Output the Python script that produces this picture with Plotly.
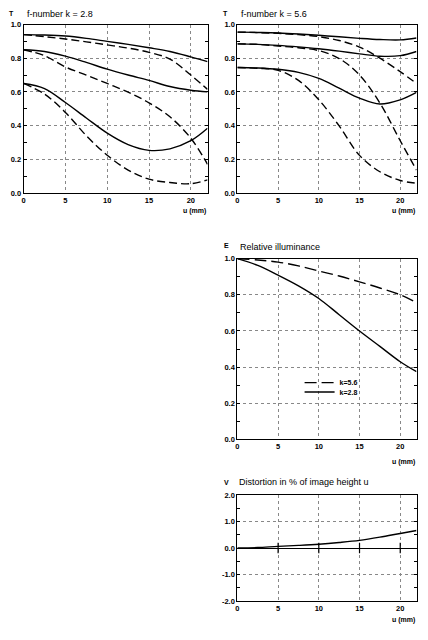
import plotly.graph_objects as go

# ---------------- data ----------------
u = [0, 2.5, 5, 7.5, 10, 12.5, 15, 17.5, 20, 22]

# f-number k = 2.8  (T)
t28_solid_1 = [0.94, 0.938, 0.932, 0.918, 0.90, 0.882, 0.862, 0.84, 0.808, 0.78]
t28_dash_1 = [0.94, 0.928, 0.914, 0.897, 0.879, 0.86, 0.835, 0.795, 0.70, 0.615]
t28_solid_2 = [0.85, 0.84, 0.812, 0.775, 0.735, 0.70, 0.668, 0.632, 0.61, 0.60]
t28_dash_2 = [0.85, 0.815, 0.748, 0.70, 0.650, 0.598, 0.535, 0.452, 0.325, 0.17]
t28_solid_3 = [0.65, 0.62, 0.537, 0.445, 0.355, 0.287, 0.253, 0.262, 0.31, 0.384]
t28_dash_3 = [0.65, 0.587, 0.478, 0.34, 0.224, 0.136, 0.082, 0.062, 0.055, 0.078]

# f-number k = 5.6  (T)
t56_solid_1 = [0.955, 0.953, 0.95, 0.944, 0.936, 0.927, 0.918, 0.911, 0.909, 0.92]
t56_dash_1 = [0.955, 0.952, 0.948, 0.94, 0.928, 0.905, 0.866, 0.80, 0.72, 0.65]
t56_solid_2 = [0.885, 0.882, 0.876, 0.867, 0.856, 0.842, 0.826, 0.812, 0.815, 0.84]
t56_dash_2 = [0.885, 0.882, 0.872, 0.862, 0.845, 0.798, 0.70, 0.534, 0.31, 0.136]
t56_solid_3 = [0.745, 0.742, 0.734, 0.716, 0.68, 0.622, 0.563, 0.528, 0.553, 0.597]
t56_dash_3 = [0.745, 0.74, 0.728, 0.668, 0.553, 0.398, 0.223, 0.126, 0.074, 0.058]

# Relative illuminance (E)
e_k56 = [1.0, 0.993, 0.981, 0.96, 0.932, 0.904, 0.872, 0.838, 0.80, 0.757]
e_k28 = [1.0, 0.963, 0.909, 0.85, 0.78, 0.69, 0.60, 0.515, 0.43, 0.375]

# Distortion (V)
v_dist = [0.0, 0.02, 0.065, 0.1, 0.145, 0.21, 0.29, 0.41, 0.55, 0.66]

x_ticks = [0, 5, 10, 15, 20]
t_ticks = [0.0, 0.2, 0.4, 0.6, 0.8, 1.0]
v_ticks = [-2, -1, 0, 1, 2]
v_ticklabels = ["-2.0", "-1.0", "0.0", "1.0", "2.0"]
legend_names = ["k=5.6", "k=2.8"]

# ---------------- figure ----------------
PAGE_W, PAGE_H = 428, 640
OFF = 8  # default body margin of the page
W, H = PAGE_W - 2 * OFF, PAGE_H - 2 * OFF
fig = go.Figure()

LW = 1.4
DASH_T = "8px,4px"
DASH_E = "12px,5px"


def add_line(y, xa, ya, dash, name=None, legend=None):
    fig.add_trace(go.Scatter(
        x=u, y=y, mode="lines", xaxis=xa, yaxis=ya,
        line=dict(color="black", width=LW, dash=dash, shape="spline", smoothing=1.0),
        name=name, showlegend=legend is not None, legend=legend or "legend",
        hoverinfo="skip"))


for s, d in [(t28_solid_1, t28_dash_1), (t28_solid_2, t28_dash_2), (t28_solid_3, t28_dash_3)]:
    add_line(s, "x", "y", "solid")
    add_line(d, "x", "y", DASH_T)
for s, d in [(t56_solid_1, t56_dash_1), (t56_solid_2, t56_dash_2), (t56_solid_3, t56_dash_3)]:
    add_line(s, "x2", "y2", "solid")
    add_line(d, "x2", "y2", DASH_T)

add_line(e_k56, "x3", "y3", DASH_E, legend_names[0], "legend")
add_line(e_k28, "x3", "y3", "solid", legend_names[1], "legend2")
add_line(v_dist, "x4", "y4", "solid")

# vertical marks on the zero line in the distortion chart
for t in x_ticks[1:]:
    fig.add_shape(type="line", xref="x4", yref="y4", x0=t, x1=t, y0=-0.2, y1=0.2,
                  line=dict(color="black", width=1.2))


def px_x(p):
    return (p - OFF) / W


def px_y(p):
    return 1 - (p - OFF) / H


xl = [px_x(21.7), px_x(206.5)]
xr = [px_x(236.5), px_x(416.5)]
y_top = [px_y(191.6), px_y(20.7)]
y_mid = [px_y(441.7), px_y(258.3)]
y_bot = [px_y(605.8), px_y(498.0)]

tickfont = dict(family="Liberation Sans", size=7.5, color="black", weight="bold")
common_x = dict(range=[0, 22], tickvals=x_ticks, ticks="inside", ticklen=0,
                showline=True, linecolor="black", linewidth=1, mirror=True,
                showgrid=True, gridcolor="#888888", griddash="dot", gridwidth=1,
                zeroline=False, tickfont=tickfont, fixedrange=True)
common_y = dict(ticks="inside", ticklen=0, showline=True, linecolor="black",
                linewidth=1, mirror="ticks", showgrid=True, gridcolor="#888888",
                griddash="dot", gridwidth=1, zeroline=False, tickfont=tickfont,
                fixedrange=True)
minor_t = dict(dtick=0.1, ticks="inside", ticklen=3, tickcolor="black", showgrid=False)
legfont = dict(family="Liberation Sans", size=7, weight="bold", color="black")

fig.update_layout(
    width=W, height=H, margin=dict(l=0, r=0, t=0, b=0),
    paper_bgcolor="white", plot_bgcolor="white",
    font=dict(family="Liberation Sans", color="black"),
    xaxis=dict(domain=xl, anchor="y", **common_x),
    yaxis=dict(domain=y_top, anchor="x", range=[0, 1], tickvals=t_ticks, tickformat=".1f",
               minor=minor_t, **common_y),
    xaxis2=dict(domain=xr, anchor="y2", **common_x),
    yaxis2=dict(domain=y_top, anchor="x2", range=[0, 1], tickvals=t_ticks, tickformat=".1f",
                minor=minor_t, **common_y),
    xaxis3=dict(domain=xr, anchor="y3", **common_x),
    yaxis3=dict(domain=y_mid, anchor="x3", range=[0, 1], tickvals=t_ticks, tickformat=".1f",
                minor=minor_t, **common_y),
    xaxis4=dict(domain=xr, anchor="y4", **common_x),
    yaxis4=dict(domain=y_bot, anchor="x4", range=[-2, 2], tickvals=v_ticks, ticktext=v_ticklabels,
                minor=dict(dtick=0.5, ticks="inside", ticklen=3, tickcolor="black", showgrid=False),
                **{**common_y, "zeroline": True}, zerolinecolor="black", zerolinewidth=1),
    legend=dict(x=px_x(299), y=px_y(384), xanchor="left", yanchor="middle",
                bgcolor="rgba(0,0,0,0)", font=legfont, itemwidth=30),
    legend2=dict(x=px_x(299), y=px_y(393.5), xanchor="left", yanchor="middle",
                 bgcolor="rgba(0,0,0,0)", font=legfont, itemwidth=30),
    showlegend=True,
)

ann = []


def label(text, x, y, size=9, bold=False, xanchor="left"):
    ann.append(dict(text=text, x=px_x(x), y=px_y(y), xref="paper", yref="paper",
                    showarrow=False, xanchor=xanchor, yanchor="middle",
                    font=dict(family="Liberation Sans", size=size, color="black",
                              weight="bold" if bold else "normal")))


label("T", 10, 9.5, 7, True, "center")
label("f-number k = 2.8", 23, 10, 9)
label("T", 225, 9.5, 7, True, "center")
label("f-number k = 5.6", 238, 10, 9)
label("E", 225.5, 245, 7, True, "center")
label("Relative illuminance", 237, 246, 9)
label("V", 225.5, 485, 7, True, "center")
label("Distortion in % of image height u", 236, 485, 9)
label("u (mm)", 207, 210, 7, True, "right")
label("u (mm)", 416.5, 210, 7, True, "right")
label("u (mm)", 416.5, 465, 7, True, "right")
label("u (mm)", 417, 625, 7, True, "right")
fig.update_layout(annotations=ann)

fig.write_html("out.html")
